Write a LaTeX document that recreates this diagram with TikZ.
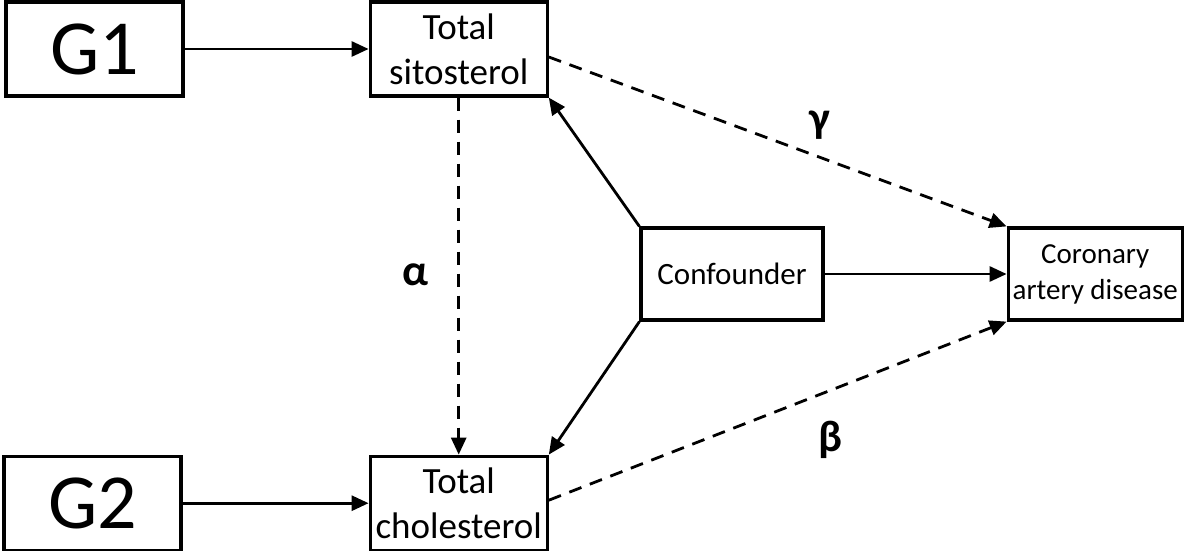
\documentclass[tikz,border=0pt]{standalone}
\usepackage{fontspec}
\setmainfont{Carlito}
\usetikzlibrary{positioning,arrows.meta}

\begin{document}
\begin{tikzpicture}[x=1pt, y=1pt, node distance=184pt,
	var/.style={draw, line width=3.2pt, minimum width=177pt, minimum height=94pt, align=center, inner sep=2pt},
	cause/.style={-{Triangle[length=17pt,width=15pt]}, line width=2.8pt},
	hid/.style={cause, dash pattern=on 13pt off 9pt},
	greek/.style={font=\bfseries\fontsize{44}{48}\selectfont}]
	\useasboundingbox (0,0) rectangle (1185,-551);
	
	\node[var, font=\fontsize{78}{84}\selectfont] (g1) at (94.5,-49) {G1};
	
	\node[var, right=of g1, font=\fontsize{37}{45}\selectfont] (sito) {Total\\sitosterol};
	
	\node[var, below=357pt of sito, font=\fontsize{37}{45}\selectfont] (chol) {Total\\cholesterol};
	
	\node[var, left=186pt of chol, font=\fontsize{78}{84}\selectfont] (g2) {G2};
	
	\node[var, minimum width=182pt, minimum height=92pt, font=\fontsize{31}{37}\selectfont] (conf) at (732,-274) {Confounder};
	\node[var, right=182pt of conf, minimum width=174pt, minimum height=92pt, font=\fontsize{29}{36}\selectfont] (cad) {Coronary\\artery disease};
	
	\draw[cause] (g1) -- (sito);
	\draw[cause] (g2.east) -- (chol.west);
	\draw[cause] (conf) -- (cad);
	\draw[cause] (conf.north west) -- (sito.south east);
	\draw[cause] (conf.south west) -- (chol.north east);
	
	\draw[hid] (sito) -- (chol);
	\draw[hid] ([yshift=-8pt]sito.east) -- (cad.north west);
	\draw[hid] ([yshift=3pt]chol.east) -- (cad.south west);
	
	\node[greek] (alpha) at (415,-275) {α};
	\node[greek] (gamma) at (820,-125) {γ};
	\node[greek] (beta) at (830,-440) {β};
	
\end{tikzpicture}
\end{document}
